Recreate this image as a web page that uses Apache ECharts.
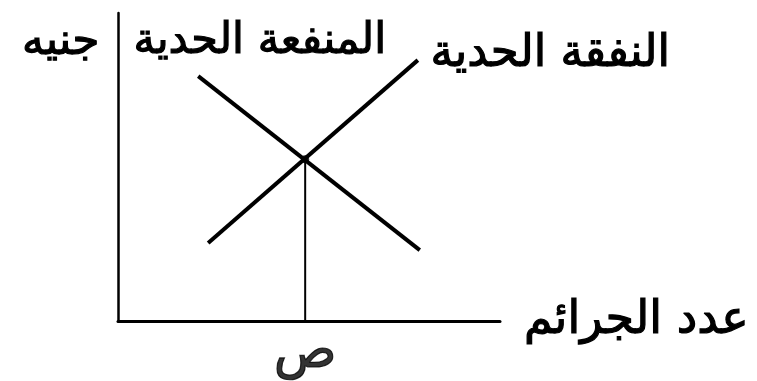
<!DOCTYPE html>
<html>
<head>
<meta charset="utf-8">
<script src="https://cdn.jsdelivr.net/npm/echarts@6/dist/echarts.min.js"></script>
<style>html,body{margin:0;padding:0;background:#fff;}#c{width:757px;height:381px;}</style>
</head>
<body>
<div id="c"></div>
<script>
// Marginal benefit (descending) line endpoints
const mbX = [21, 79];
const mbY = [79.5, 23];
// Marginal cost (ascending) line endpoints
const mcX = [23.6, 78.5];
const mcY = [25.3, 84.7];
// Equilibrium drop line
const eqX = [49, 49];
const eqY = [0, 52.5];
// Texts
const yName = 'جنيه';
const xName = 'عدد الجرائم';
const mbName = 'المنفعة الحدية';
const mcName = 'النفقة الحدية';
const eqLabel = 'ص';

const FONT = 'DejaVu Sans';
const chart = echarts.init(document.getElementById('c'), null, {renderer: 'canvas'});
const zip = (xs, ys) => xs.map((x, i) => [x, ys[i]]);
const lineStyle = {color: '#000', width: 4};
const txt = (fs) => ({fontFamily: FONT, fontSize: fs, color: '#000', textBorderColor: '#000', textBorderWidth: 1.2});
const gtxt = (s, fs) => ({text: s, font: fs + 'px "' + FONT + '"', fill: '#000', stroke: '#000', lineWidth: 1.2});
chart.setOption({
  animation: false,
  backgroundColor: '#fff',
  grid: {left: 118, top: 13, width: 382, height: 308, containLabel: false, outerBoundsMode: 'none'},
  xAxis: {
    type: 'value', min: 0, max: 100,
    axisLine: {show: true, onZero: false, lineStyle: {color: '#000', width: 3}},
    axisTick: {show: false}, axisLabel: {show: false}, splitLine: {show: false},
    name: xName, nameLocation: 'end', nameGap: 24,
    nameTextStyle: Object.assign({verticalAlign: 'middle', padding: [0, 0, 6, 0]}, txt(46))
  },
  yAxis: {
    type: 'value', min: 0, max: 100,
    axisLine: {show: true, onZero: false, lineStyle: {color: '#000', width: 2.5}},
    axisTick: {show: false}, axisLabel: {show: false}, splitLine: {show: false}
  },
  graphic: [
    {type: 'text', right: 757 - 100, top: 20, style: gtxt(yName, 44)},
    {type: 'text', left: 133, top: 20, style: gtxt(mbName, 43)},
    {type: 'text', left: 430, top: 31, style: gtxt(mcName, 45)}
  ],
  series: [
    {type: 'line', data: zip(mbX, mbY), symbol: 'none', lineStyle: lineStyle},
    {type: 'line', data: zip(mcX, mcY), symbol: 'none', lineStyle: lineStyle},
    {type: 'line', data: zip(eqX, eqY), symbol: 'none', lineStyle: {color: '#000', width: 2}},
    {type: 'scatter', data: [[eqX[1], eqY[1]]], symbol: 'circle', symbolSize: 8,
     itemStyle: {color: '#000'}},
    {type: 'scatter', data: [[eqX[0], eqY[0]]], symbolSize: 0,
     label: Object.assign({show: true, position: 'bottom', distance: 6, formatter: eqLabel}, txt(52))}
  ]
});
</script>
</body>
</html>
